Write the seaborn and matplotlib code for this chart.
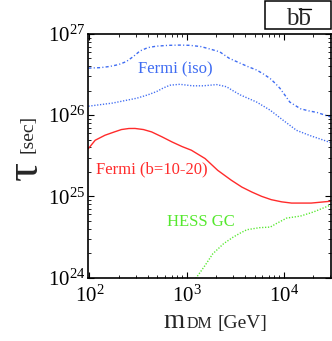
import numpy as np
import pandas as pd
import matplotlib
matplotlib.use("Agg")
import matplotlib.pyplot as plt
from matplotlib.patches import Rectangle
from matplotlib.lines import Line2D
from matplotlib.ticker import LogLocator, NullFormatter
import seaborn as sns

# ---- data ----
iso_up_m = [98, 130, 162, 200, 240, 285, 331, 400, 490, 650, 851, 1080, 1400, 1740, 2190, 2750, 3550,
            4300, 5250, 6200, 7240, 8200, 9120, 10300, 11500, 14800, 18000, 21900, 30200]
iso_up_tau = [3.80e26, 3.85e26, 3.98e26, 4.20e26, 4.57e26, 5.30e26, 6.17e26, 6.80e26, 7.08e26, 7.25e26,
              7.30e26, 7.25e26, 7.00e26, 6.53e26, 6.03e26, 5.01e26, 4.37e26, 3.95e26, 3.60e26, 3.20e26,
              2.82e26, 2.45e26, 2.14e26, 1.75e26, 1.45e26, 1.20e26, 1.13e26, 1.08e26, 9.5e25]

iso_lo_m = [98, 174, 309, 400, 490, 580, 676, 851, 1150, 1480, 2040, 2570, 3000, 3550, 5250, 7240,
            9770, 13500, 18600, 30200]
iso_lo_tau = [1.29e26, 1.41e26, 1.62e26, 1.78e26, 1.95e26, 2.17e26, 2.34e26, 2.40e26, 2.30e26, 2.30e26,
              2.38e26, 2.24e26, 2.00e26, 1.78e26, 1.45e26, 1.15e26, 8.7e25, 6.5e25, 5.6e25, 4.6e25]

gal_m = [98, 115, 145, 180, 214, 255, 295, 360, 437, 560, 708, 900, 1120, 1550, 2090, 2880, 3700,
         4680, 5900, 7410, 9500, 12000, 19100, 30200]
gal_tau = [3.88e25, 4.91e25, 5.66e25, 6.20e25, 6.65e25, 6.85e25, 6.86e25, 6.65e25, 6.22e25, 5.40e25,
           4.68e25, 4.10e25, 3.70e25, 2.92e25, 2.09e25, 1.58e25, 1.30e25, 1.13e25, 1.00e25, 9.1e24,
           8.55e24, 8.26e24, 8.26e24, 8.7e24]

hess_m = [1240, 1550, 1860, 2400, 3020, 3600, 4170, 5620, 7240, 8320, 10700, 14800, 20000, 30200]
hess_tau = [0.97e24, 1.41e24, 1.96e24, 2.61e24, 3.15e24, 3.55e24, 3.88e24, 4.11e24, 4.18e24, 4.60e24,
            5.40e24, 5.71e24, 6.40e24, 7.80e24]

xlim = (97, 30500)
ylim = (1e24, 1e27)

blue = "#3f6cf2"
red = "#ff2b2b"
green = "#55e82e"

sns.set_style("ticks")
plt.rcParams["font.family"] = ["Liberation Serif", "DejaVu Serif"]
plt.rcParams["mathtext.fontset"] = "stix"

fig = plt.figure(figsize=(3.32, 3.41), dpi=100)
ax = fig.add_axes([88 / 332, 1 - 277.5 / 341, (331 - 88) / 332, (277.5 - 34) / 341])

sns.lineplot(x=iso_up_m, y=iso_up_tau, ax=ax, color=blue, lw=1.0,
             linestyle=(0, (2.2, 1.6, 0.8, 1.6)))
sns.lineplot(x=iso_lo_m, y=iso_lo_tau, ax=ax, color=blue, lw=1.0, linestyle=(0, (0.9, 1.2)))
sns.lineplot(x=gal_m, y=gal_tau, ax=ax, color=red, lw=1.0)
sns.lineplot(x=hess_m, y=hess_tau, ax=ax, color=green, lw=1.0, linestyle=(0, (0.9, 1.2)))

ax.set_xscale("log")
ax.set_yscale("log")
ax.set_xlim(*xlim)
ax.set_ylim(*ylim)
ax.set_xlabel("")
ax.set_ylabel("")

ax.xaxis.set_major_locator(LogLocator(base=10, numticks=10))
ax.xaxis.set_minor_locator(LogLocator(base=10, subs=np.arange(2, 10), numticks=20))
ax.yaxis.set_major_locator(LogLocator(base=10, numticks=10))
ax.yaxis.set_minor_locator(LogLocator(base=10, subs=np.arange(2, 10), numticks=20))
ax.xaxis.set_minor_formatter(NullFormatter())
ax.yaxis.set_minor_formatter(NullFormatter())

ax.tick_params(which="both", direction="in", top=True, right=True, colors="black",
               labelsize=15)
ax.tick_params(which="major", length=4.5, width=0.8)
ax.tick_params(which="minor", length=2.2, width=0.6)
ax.tick_params(axis="x", pad=6)
ax.tick_params(axis="y", pad=2)
for s in ax.spines.values():
    s.set_linewidth(1.2)
    s.set_color("black")
    s.set_visible(True)

# curve labels
ax.text(175 / 332, 1 - 69.3 / 341, "Fermi (iso)", transform=fig.transFigure, color=blue,
        fontsize=12, ha="center", va="center")
ax.text(151.5 / 332, 1 - 169.3 / 341, "Fermi (b=10-20)", transform=fig.transFigure, color=red,
        fontsize=12, ha="center", va="center")
ax.text(201 / 332, 1 - 222 / 341, "HESS GC", transform=fig.transFigure, color=green,
        fontsize=12, ha="center", va="center")

# axis labels
yb = 1 - 328.3 / 341
fig.text(163.3 / 332, yb, "m", fontsize=19.5, ha="left", va="baseline")
fig.text(186.5 / 332, yb, "DM", fontsize=11.5, ha="left", va="baseline")
fig.text(217.3 / 332, yb, "[GeV]", fontsize=14, ha="left", va="baseline")

fig.text(28 / 332, 1 - 134 / 341, "[sec]", fontsize=14, rotation=90, ha="center", va="center")
fig.text(26 / 332, 1 - 171 / 341, "τ", fontsize=34, rotation=90, ha="center", va="center")

# channel box
fig.patches.append(Rectangle((265 / 332, 1 - 29.3 / 341), 66 / 332, 28.6 / 341,
                             transform=fig.transFigure, fill=False, edgecolor="black", lw=1.1))
fig.text(298.5 / 332, 1 - 25 / 341, "bb", fontsize=18, ha="center", va="baseline")
fig.lines.append(Line2D([299 / 332, 310.5 / 332], [1 - 8.5 / 341, 1 - 8.5 / 341],
                        transform=fig.transFigure, color="black", lw=1.0))

fig.savefig("out.png", dpi=100)
